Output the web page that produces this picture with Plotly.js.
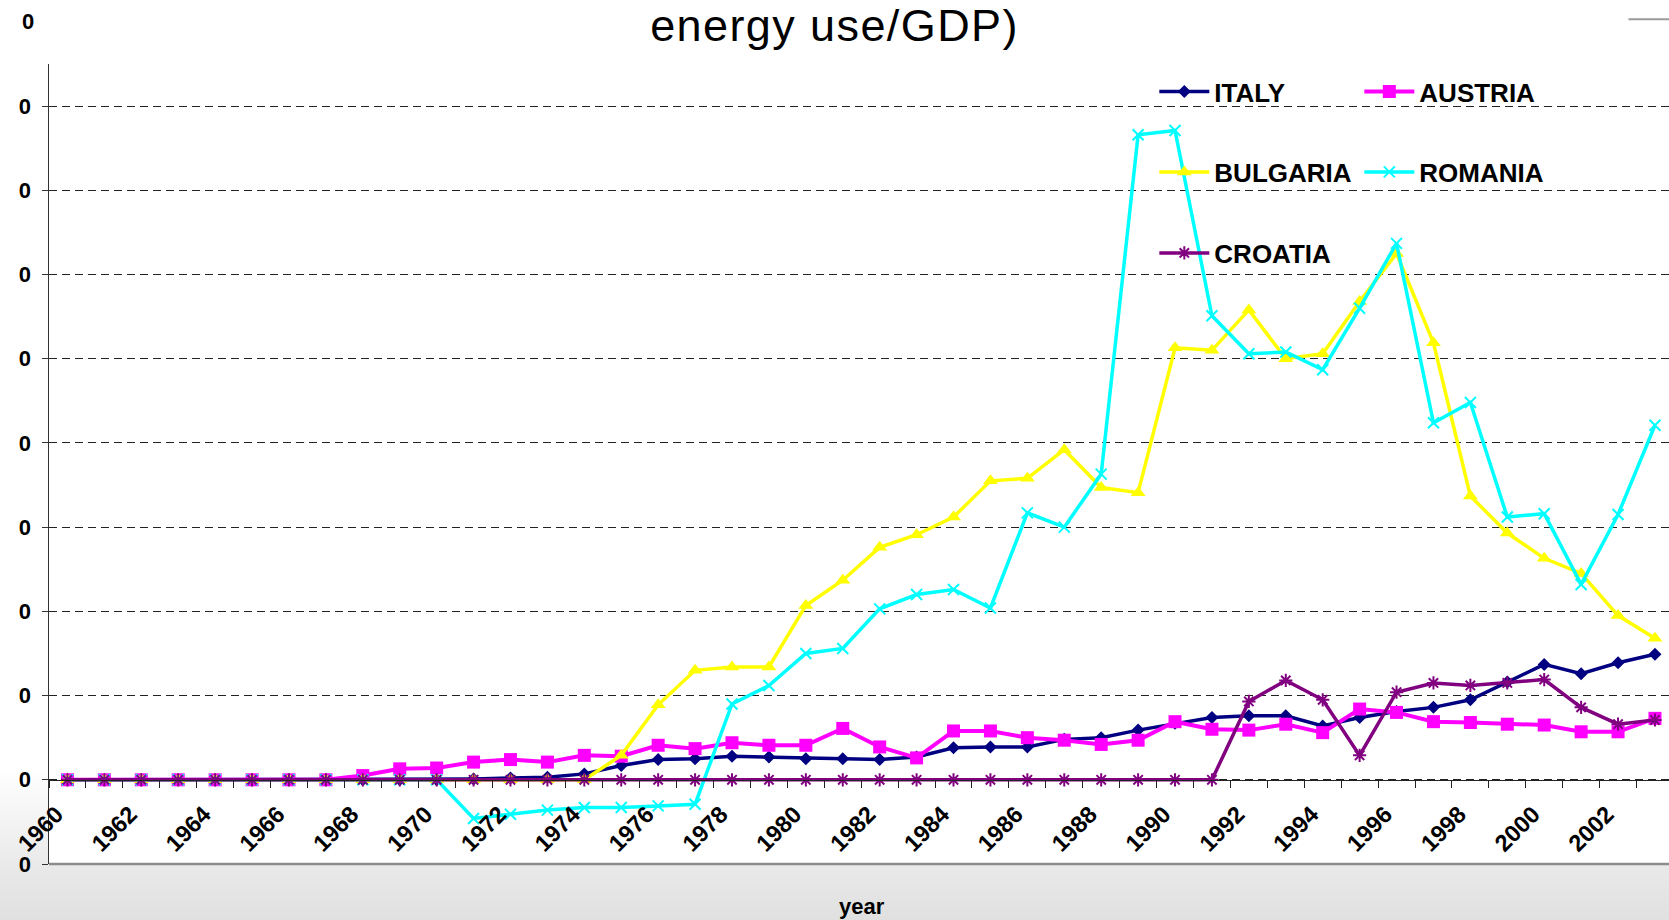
<!DOCTYPE html>
<html>
<head>
<meta charset="utf-8">
<script src="https://cdn.plot.ly/plotly-3.0.1.min.js"></script>
<style>
html,body{margin:0;padding:0;}
body{width:1669px;height:920px;overflow:hidden;background:linear-gradient(to bottom,#ffffff 0px,#ffffff 770px,#e9e9e9 866px,#e0e0e0 920px);}
#chart{width:1669px;height:920px;}
.gtitle{letter-spacing:1.4px;}
</style>
</head>
<body>
<div id="chart"></div>
<script>
// ---- data (1960 .. 2003) ----
const years = [1960,1961,1962,1963,1964,1965,1966,1967,1968,1969,1970,1971,1972,1973,1974,1975,1976,1977,1978,1979,1980,1981,1982,1983,1984,1985,1986,1987,1988,1989,1990,1991,1992,1993,1994,1995,1996,1997,1998,1999,2000,2001,2002,2003];
const italy    = [0,0,0,0,0,0,0,0,0,0,0,0.01,0.02,0.03,0.07,0.17,0.24,0.25,0.28,0.27,0.25,0.25,0.24,0.27,0.38,0.39,0.39,0.48,0.50,0.59,0.67,0.74,0.76,0.76,0.64,0.74,0.81,0.86,0.95,1.16,1.37,1.26,1.39,1.49];
const austria  = [0,0,0,0,0,0,0,0,0.05,0.13,0.14,0.21,0.24,0.21,0.29,0.28,0.41,0.37,0.44,0.41,0.41,0.61,0.39,0.26,0.58,0.58,0.50,0.47,0.42,0.47,0.69,0.60,0.59,0.66,0.56,0.84,0.80,0.69,0.68,0.66,0.65,0.57,0.57,0.73];
const bulgaria = [0,0,0,0,0,0,0,0,0,0,0,0,0,0,0,0.29,0.89,1.30,1.34,1.34,2.07,2.37,2.76,2.91,3.12,3.55,3.58,3.92,3.47,3.41,5.13,5.10,5.58,5.00,5.06,5.68,6.25,5.19,3.37,2.93,2.63,2.45,1.95,1.68];
const romania  = [0,0,0,0,0,0,0,0,0,0,0,-0.46,-0.41,-0.36,-0.33,-0.33,-0.31,-0.29,0.90,1.12,1.50,1.56,2.03,2.20,2.26,2.04,3.17,3.00,3.63,7.66,7.71,5.51,5.06,5.08,4.87,5.60,6.37,4.24,4.48,3.12,3.16,2.32,3.15,4.21];
const croatia  = [0,0,0,0,0,0,0,0,0,0,0,0,0,0,0,0,0,0,0,0,0,0,0,0,0,0,0,0,0,0,0,0,0.93,1.18,0.95,0.29,1.04,1.15,1.12,1.15,1.19,0.86,0.66,0.71];
const seriesNames = ['ITALY','AUSTRIA','BULGARIA','ROMANIA','CROATIA'];
const yTickVals = [-1,0,1,2,3,4,5,6,7,8];
const yTickLabel = '0';
const xLabelYears = years.filter((y,i) => i % 2 === 0 && y <= 2002);
const titleText = 'energy use/GDP)';
const xTitleText = 'year';

// ---- layout helpers ----
const F = 'Liberation Sans, Arial, sans-serif';
const yRange = [-1, 8.5];
const xRange = [1959.5, 2003.38];
const zeroPos = (0 - yRange[0]) / (yRange[1] - yRange[0]);
const topTickPos = (9 - yRange[0]) / (yRange[1] - yRange[0]);
const labelShift = -0.3; // rotated labels sit slightly left of the category centre

function trace(name, y, color, symbol, size, legend, mline, lw) {
  return {
    type: 'scatter', mode: 'lines+markers', name: name, x: years, y: y,
    legend: legend,
    line: {color: color, width: lw},
    marker: {color: color, symbol: symbol, size: size, line: {color: color, width: mline}},
    cliponaxis: false
  };
}

const data = [
  trace(seriesNames[0], italy,    '#000080', 'diamond',       10, 'legend',  0, 3.5),
  trace(seriesNames[1], austria,  '#FF00FF', 'square',        13, 'legend',  0, 4),
  trace(seriesNames[2], bulgaria, '#FFFF00', 'triangle-up',   13, 'legend2', 0, 3.5),
  trace(seriesNames[3], romania,  '#00FFFF', 'x-thin',        11, 'legend2', 2, 3.5),
  trace(seriesNames[4], croatia,  '#800080', 'asterisk-open', 11, 'legend3', 2, 3.5)
];

const legendBase = {
  orientation: 'h', x: 0.6823, xanchor: 'left', yanchor: 'middle',
  bgcolor: 'rgba(0,0,0,0)', borderwidth: 0,
  entrywidth: 140, entrywidthmode: 'pixels', itemwidth: 50,
  font: {family: F, size: 26, color: '#000', weight: 'bold'}
};

const layout = {
  width: 1669, height: 920,
  margin: {l: 49, r: 0, t: 64, b: 56, pad: 0},
  paper_bgcolor: 'rgba(0,0,0,0)',
  plot_bgcolor: '#ffffff',
  showlegend: true,
  title: {text: titleText, font: {family: F, size: 45, color: '#000'}, x: 0.5, xref: 'container', xanchor: 'center', y: 1 - 25.5/920, yref: 'container', yanchor: 'middle'},
  xaxis: {
    type: 'linear', range: xRange, anchor: 'free', position: zeroPos,
    tickmode: 'array', tickvals: xLabelYears.map(y => y + labelShift), ticktext: xLabelYears.map(String),
    tickangle: -45, ticks: '', ticklabelstandoff: 10,
    tickfont: {family: F, size: 23.5, color: '#000', weight: 'bold'},
    showgrid: false, zeroline: false, showline: true, linecolor: '#222', linewidth: 1.5,
    minor: {tickmode: 'linear', tick0: 1959.5, dtick: 1, ticks: 'outside', ticklen: 7, tickcolor: '#222', tickwidth: 1, showgrid: false}
  },
  yaxis: {
    range: yRange, tickmode: 'array', tickvals: yTickVals, ticktext: yTickVals.map(() => yTickLabel),
    ticks: 'outside', ticklen: 6, tickcolor: '#333', ticklabelstandoff: 6,
    tickfont: {family: F, size: 22, color: '#000', weight: 'bold'},
    showgrid: true, gridcolor: '#222', gridwidth: 1, griddash: '8px,5px',
    zeroline: false, showline: true, linecolor: '#333', linewidth: 1.5
  },
  legend:  Object.assign({}, legendBase, {y: 1 - 27.5/800}),
  legend2: Object.assign({}, legendBase, {y: 1 - 108/800}),
  legend3: Object.assign({}, legendBase, {y: 1 - 189/800}),
  shapes: [
    {type: 'rect', layer: 'between', xref: 'paper', yref: 'paper', x0: 0.678, x1: 0.932, y0: 0.715, y1: 1.0, fillcolor: '#ffffff', line: {width: 0}},
    {type: 'line', layer: 'above', xref: 'paper', yref: 'paper', x0: 0, x1: 1, y0: 0, y1: 0, line: {color: '#8c8c8c', width: 2.5}},
    {type: 'line', layer: 'above', xref: 'paper', yref: 'paper', x0: 0.975, x1: 1.0, y0: 1.056, y1: 1.056, line: {color: '#9a9a9a', width: 2}}
  ],
  annotations: [
    {text: yTickLabel, xref: 'paper', yref: 'paper', x: -0.008, y: topTickPos, xanchor: 'right', yanchor: 'middle', showarrow: false,
     font: {family: F, size: 22, color: '#000', weight: 'bold'}},
    {text: xTitleText, xref: 'paper', yref: 'paper', x: 0.502, y: -0.053, xanchor: 'center', yanchor: 'middle', showarrow: false,
     font: {family: F, size: 22, color: '#000', weight: 'bold'}}
  ]
};

Plotly.newPlot('chart', data, layout, {staticPlot: true, displayModeBar: false});
</script>
</body>
</html>
